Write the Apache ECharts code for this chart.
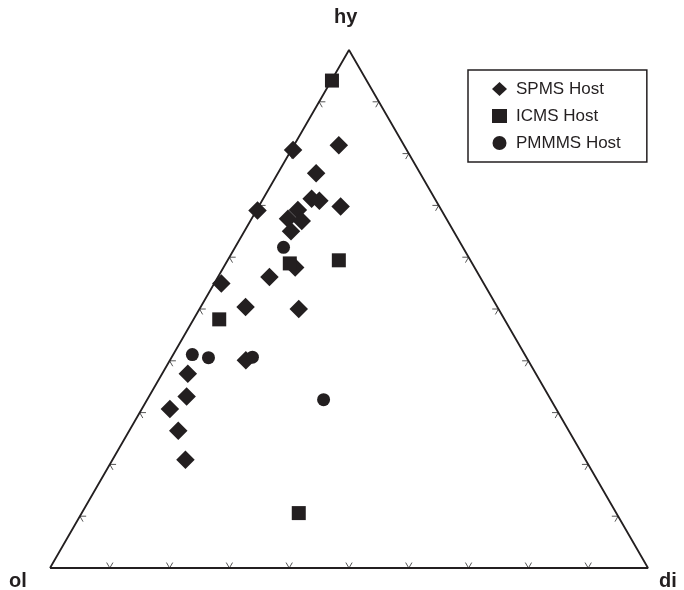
<!DOCTYPE html>
<html>
<head>
<meta charset="utf-8">
<script src="https://cdn.jsdelivr.net/npm/echarts@6/dist/echarts.min.js"></script>
<style>
html,body{margin:0;padding:0;background:#fff;}
#c{width:684px;height:590px;}
</style>
</head>
<body>
<div id="c"></div>
<script>
// Ternary compositions, percent: [ol, di, hy]
const spms = [
  [19.0, 0.3, 80.7], [10.9, 7.5, 81.6], [17.4, 6.4, 76.2], [30.8, 0.2, 69.0],
  [20.6, 8.1, 71.3], [19.5, 9.6, 70.9], [16.5, 13.7, 69.8], [24.0, 6.9, 69.1],
  [26.5, 6.1, 67.4], [24.4, 8.6, 67.0], [27.2, 7.8, 65.0], [30.0, 12.0, 58.0],
  [35.2, 8.6, 56.2], [43.9, 1.2, 54.9], [42.1, 7.5, 50.4], [33.4, 16.6, 50.0],
  [47.2, 12.7, 40.1], [58.2, 4.3, 37.5], [60.6, 6.3, 33.1], [64.6, 4.7, 30.7],
  [65.3, 8.2, 26.5], [66.9, 12.2, 20.9]
];
const icms = [
  [5.8, 0.1, 94.1], [22.0, 18.6, 59.4], [30.5, 10.7, 58.8], [47.7, 4.3, 48.0],
  [53.1, 36.3, 10.6]
];
const pmmms = [
  [30.0, 8.1, 61.9], [55.6, 3.2, 41.2], [53.2, 6.2, 40.6], [45.8, 13.5, 40.7],
  [38.0, 29.5, 32.5]
];
const tickValues = [0.1, 0.2, 0.3, 0.4, 0.5, 0.6, 0.7, 0.8, 0.9];
const vertexLabels = ['ol', 'di', 'hy'];
const seriesNames = ['SPMS Host', 'ICMS Host', 'PMMMS Host'];

const H = Math.sqrt(3) / 2;
function toXY(p) {
  const s = p[0] + p[1] + p[2];
  const d = p[1] / s, h = p[2] / s;
  return [d + h / 2, h * H];
}
const INK = '#231f20';
const TL = 0.0105; // tick length in data units

const chart = echarts.init(document.getElementById('c'));
chart.setOption({
  animation: false,
  backgroundColor: '#fff',
  grid: { left: 50, top: 50, width: 598, height: 518, containLabel: false },
  xAxis: { type: 'value', min: 0, max: 1, show: false },
  yAxis: { type: 'value', min: 0, max: H, show: false },
  legend: {
    orient: 'vertical', left: 468, top: 70,
    padding: [10.5, 26, 10.5, 24], itemGap: 10, itemWidth: 15, itemHeight: 14,
    borderColor: INK, borderWidth: 1.5,
    itemStyle: { opacity: 1 },
    textStyle: { fontFamily: 'Liberation Sans, Arial, sans-serif', fontSize: 17, color: INK, padding: [0, 0, 0, 4] },
    data: [
      { name: seriesNames[0], icon: 'diamond' },
      { name: seriesNames[1], icon: 'rect' },
      { name: seriesNames[2], icon: 'circle' }
    ],
    selectedMode: false
  },
  graphic: [
    { type: 'text', left: 334, top: 7, style: { text: vertexLabels[2], font: 'bold 20px "Liberation Sans", Arial, sans-serif', fill: INK } },
    { type: 'text', left: 9, top: 571, style: { text: vertexLabels[0], font: 'bold 20px "Liberation Sans", Arial, sans-serif', fill: INK } },
    { type: 'text', left: 659, top: 571, style: { text: vertexLabels[1], font: 'bold 20px "Liberation Sans", Arial, sans-serif', fill: INK } }
  ],
  series: [
    {
      type: 'custom', silent: true, z: 1,
      data: tickValues,
      renderItem: function (params, api) {
        const t = api.value(0);
        const segs = [
          [[t, 0], [t + TL * 0.5, TL * H]],
          [[t, 0], [t - TL * 0.5, TL * H]],
          [[t / 2, t * H], [t / 2 + TL, t * H]],
          [[t / 2, t * H], [t / 2 + TL * 0.5, t * H - TL * H]],
          [[1 - t / 2, t * H], [1 - t / 2 - TL, t * H]],
          [[1 - t / 2, t * H], [1 - t / 2 - TL * 0.5, t * H - TL * H]]
        ];
        return {
          type: 'group',
          children: segs.map(function (s) {
            const a = api.coord(s[0]), b = api.coord(s[1]);
            return { type: 'line', shape: { x1: a[0], y1: a[1], x2: b[0], y2: b[1] }, style: { stroke: '#555', lineWidth: 1 } };
          })
        };
      }
    },
    {
      type: 'line', silent: true, z: 2, symbol: 'none',
      lineStyle: { color: INK, width: 1.8 },
      data: [toXY([100, 0, 0]), toXY([0, 100, 0]), toXY([0, 0, 100]), toXY([100, 0, 0])]
    },
    {
      name: seriesNames[0], type: 'scatter', z: 5, symbol: 'diamond', symbolSize: 18.5,
      itemStyle: { color: INK, opacity: 1 }, data: spms.map(toXY)
    },
    {
      name: seriesNames[1], type: 'scatter', z: 5, symbol: 'rect', symbolSize: 14,
      itemStyle: { color: INK, opacity: 1 }, data: icms.map(toXY)
    },
    {
      name: seriesNames[2], type: 'scatter', z: 5, symbol: 'circle', symbolSize: 13,
      itemStyle: { color: INK, opacity: 1 }, data: pmmms.map(toXY)
    }
  ]
});
</script>
</body>
</html>
